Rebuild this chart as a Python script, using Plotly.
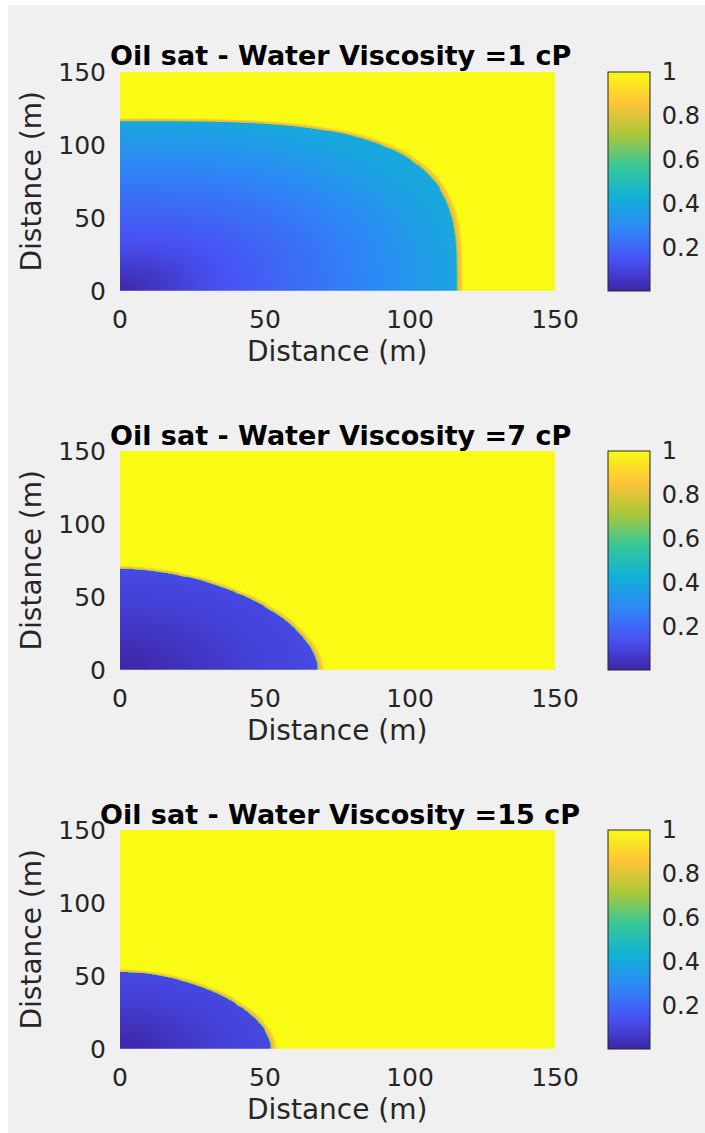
import numpy as np
import plotly.graph_objects as go

# ---------------- data ----------------
VISCOSITY_CP = [1, 7, 15]
FRONT_X_M = [116.0, 68.0, 52.0]          # front position along the x axis (m)
FRONT_Y_M = [116.0, 69.0, 52.5]          # front position along the y axis (m)
FRONT_SHAPE_EXP = [3.5, 1.8, 1.8]        # squareness of the displacement front
INNER_SHAPE_EXP = [2.5, 2.0, 2.0]        # squareness of the inner iso-saturation lines
PROFILE_POS = [0.0, 0.1, 0.25, 0.4, 0.55, 0.7, 0.85, 1.0, 1.3]   # normalised distance from injector
SAT_PROFILE_1CP = [0.0, 0.05, 0.12, 0.17, 0.22, 0.27, 0.33, 0.39, 0.43]
SAT_PROFILE_7CP = [0.0, 0.01, 0.03, 0.05, 0.07, 0.09, 0.10, 0.115, 0.12]
SAT_PROFILE_15CP = [0.0, 0.01, 0.03, 0.05, 0.07, 0.09, 0.10, 0.11, 0.12]
FRONT_BAND_M = [0.0, 0.5, 1.6, 2.3]      # thickness of the shock front (m)
FRONT_BAND_SAT = [0.5, 0.8, 0.88, 1.0]
AXIS_TICKS = [0, 50, 100, 150]
CBAR_TICKS = [0.2, 0.4, 0.6, 0.8, 1.0]
CBAR_TICKTEXT = ["0.2", "0.4", "0.6", "0.8", "1"]
SAT_PROFILES = [SAT_PROFILE_1CP, SAT_PROFILE_7CP, SAT_PROFILE_15CP]

PARULA = [
    [0 / 7, "rgb(62,38,168)"],
    [1 / 7, "rgb(72,82,244)"],
    [2 / 7, "rgb(46,135,247)"],
    [3 / 7, "rgb(18,177,214)"],
    [4 / 7, "rgb(55,200,151)"],
    [5 / 7, "rgb(171,199,57)"],
    [6 / 7, "rgb(254,195,56)"],
    [7 / 7, "rgb(249,251,21)"],
]

W, H = 705, 1133
GRID = np.linspace(0, 150, 451)


def field(i):
    X, Y = np.meshgrid(GRID, GRID)
    ax, ay = FRONT_X_M[i], FRONT_Y_M[i]
    n, m = FRONT_SHAPE_EXP[i], INNER_SHAPE_EXP[i]
    rho = ((X / ax) ** n + (Y / ay) ** n) ** (1 / n)
    q = ((X / ax) ** m + (Y / ay) ** m) ** (1 / m)
    inner = np.interp(q, PROFILE_POS, SAT_PROFILES[i])
    d = (rho - 1.0) * np.sqrt(ax * ay)
    band = np.interp(d, FRONT_BAND_M, FRONT_BAND_SAT)
    return np.where(rho < 1.0, inner, band).astype(np.float32)


def px_x(p):
    return p / W


def px_y(p):
    return 1 - p / H


FONT = "DejaVu Sans"
DARK = "#262626"
PANEL_TOP = [72, 451, 830]
PANEL_H = 219
X0, X1 = 120, 555

fig = go.Figure()
annotations = []
for i in range(3):
    top = PANEL_TOP[i]
    bot = top + PANEL_H
    k = "" if i == 0 else str(i + 1)
    fig.add_trace(go.Heatmap(
        x=GRID, y=GRID, z=field(i),
        xaxis="x" + k, yaxis="y" + k,
        colorscale=PARULA, zmin=0, zmax=1,
        colorbar=dict(
            x=px_x(608), xanchor="left", xpad=0, ypad=0,
            y=px_y((top + bot) / 2), yanchor="middle",
            len=PANEL_H / H, lenmode="fraction",
            thickness=42, thicknessmode="pixels",
            outlinecolor=DARK, outlinewidth=1,
            tickvals=CBAR_TICKS, ticktext=CBAR_TICKTEXT,
            ticks="outside", ticklen=7, tickcolor="rgba(0,0,0,0)",
            tickfont=dict(family=FONT, size=24, color=DARK),
        ),
        hoverinfo="skip",
    ))
    axstyle = dict(range=[0, 150], tickvals=AXIS_TICKS, showgrid=False, zeroline=False,
                   showline=False, ticks="", automargin=False,
                   tickfont=dict(family=FONT, size=25, color=DARK))
    fig.layout["xaxis" + k] = dict(axstyle, domain=[px_x(X0), px_x(X1)], anchor="y" + k,
                                   ticklabelstandoff=11)
    fig.layout["yaxis" + k] = dict(axstyle, domain=[px_y(bot), px_y(top)], anchor="x" + k,
                                   ticklabelstandoff=13)
    annotations.append(dict(
        text="Oil sat - Water Viscosity =%d cP" % VISCOSITY_CP[i],
        x=px_x(340), y=px_y(top - 16), xref="paper", yref="paper",
        xanchor="center", yanchor="middle", showarrow=False,
        font=dict(family=FONT, size=27, color="black", weight="bold"),
    ))
    annotations.append(dict(
        text="Distance (m)", x=px_x(337), y=px_y(bot + 60), xref="paper", yref="paper",
        xanchor="center", yanchor="middle", showarrow=False,
        font=dict(family=FONT, size=28, color=DARK),
    ))
    annotations.append(dict(
        text="Distance (m)", x=px_x(31), y=px_y((top + bot) / 2), xref="paper", yref="paper",
        xanchor="center", yanchor="middle", showarrow=False, textangle=-90,
        font=dict(family=FONT, size=28, color=DARK),
    ))

fig.update_layout(
    width=W, height=H,
    margin=dict(l=0, r=0, t=0, b=0),
    paper_bgcolor="white", plot_bgcolor="#f0f0f0",
    annotations=annotations,
    shapes=[dict(type="rect", xref="paper", yref="paper", x0=8 / W, x1=1, y0=0, y1=1 - 5 / H,
                 fillcolor="#f0f0f0", line=dict(width=0), layer="below")],
    showlegend=False,
)
fig.write_html("out.html")
